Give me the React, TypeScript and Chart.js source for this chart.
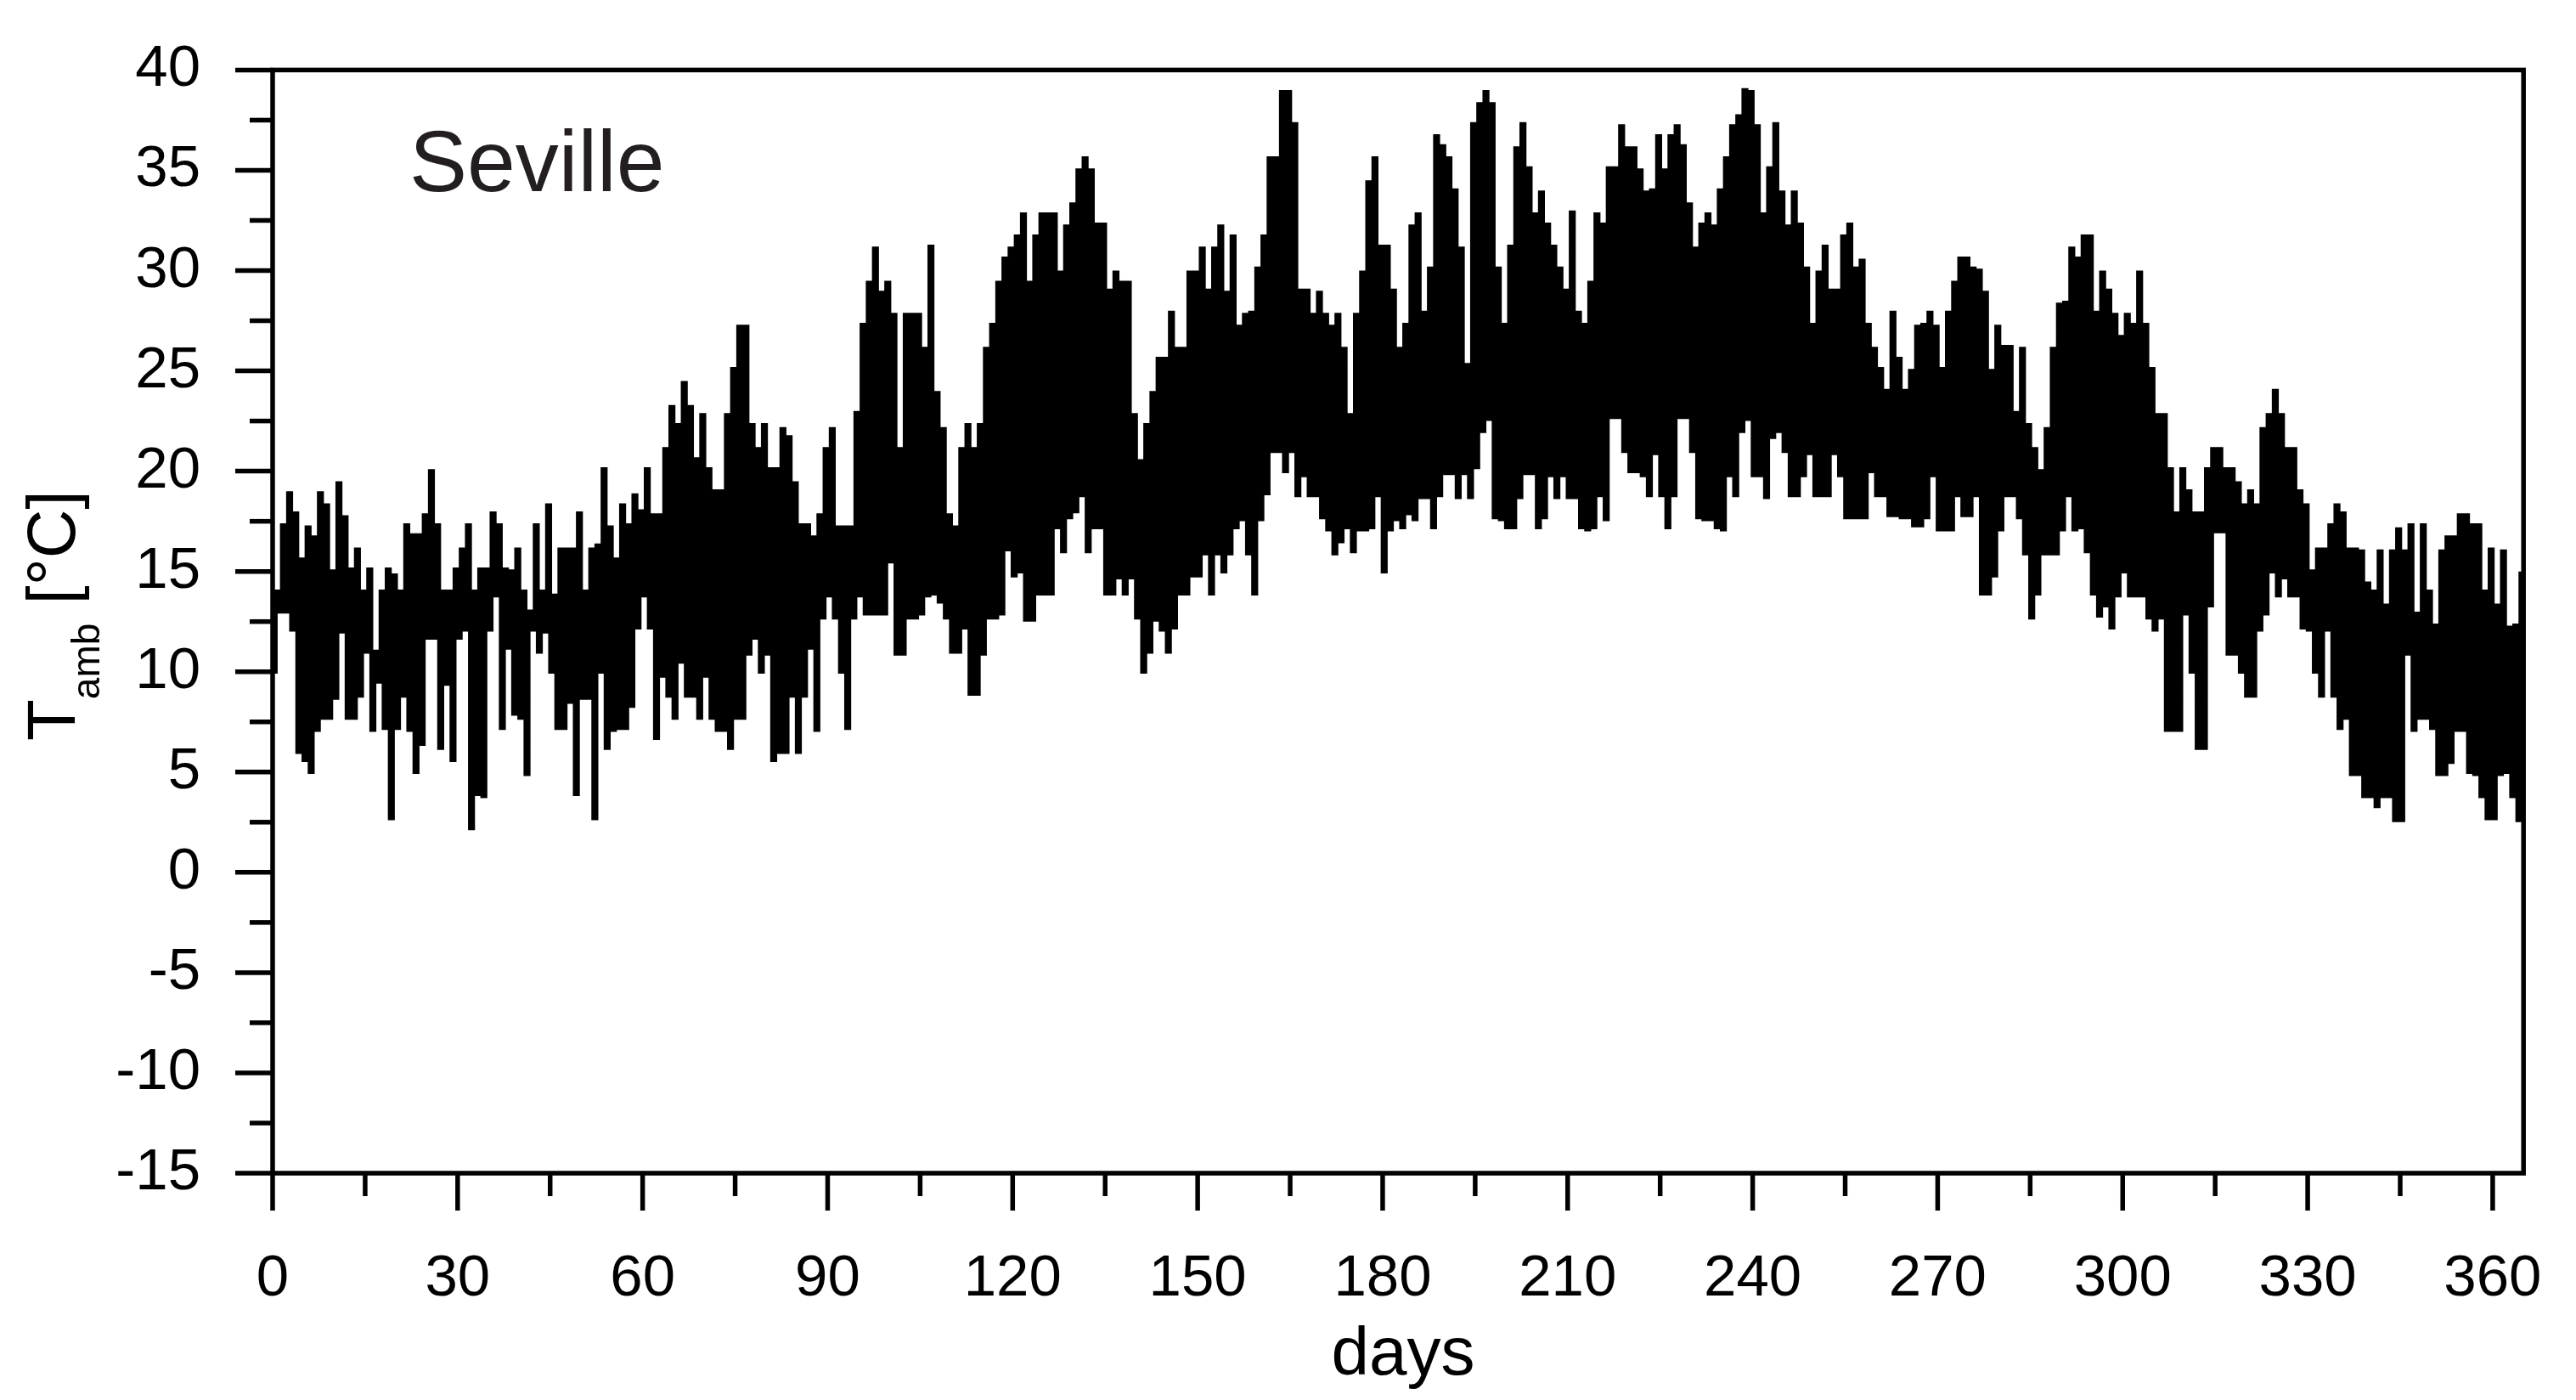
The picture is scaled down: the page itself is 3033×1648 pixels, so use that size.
import { useEffect, useRef } from "react";
import { Chart, registerables } from "chart.js";

Chart.register(...registerables);

const FONT = '"Liberation Sans", Arial, Helvetica, sans-serif';

// Axis ticks
const dayTicks = [0, 30, 60, 90, 120, 150, 180, 210, 240, 270, 300, 330, 360];
const tempTicks = [-15, -10, -5, 0, 5, 10, 15, 20, 25, 30, 35, 40];

// Text
const cityLabel = "Seville";
const xTitle = "days";

// Daily maximum ambient temperature [°C], day 0..364
const dailyMax = [
  14.0, 17.3, 18.9, 17.9, 15.6, 17.2, 16.7, 18.9, 18.3, 15.0,
  19.4, 17.7, 15.1, 16.1, 14.0, 15.1, 11.0, 14.0, 15.1, 14.8,
  14.0, 17.3, 16.8, 16.8, 17.8, 20.0, 17.3, 14.0, 14.0, 15.1,
  16.1, 17.3, 14.0, 15.1, 15.1, 17.9, 17.3, 15.1, 15.0, 16.1,
  14.0, 13.0, 17.3, 14.0, 18.3, 13.8, 16.1, 16.1, 16.1, 17.9,
  14.0, 16.1, 16.3, 20.1, 17.2, 15.6, 18.3, 17.3, 18.8, 18.0,
  20.1, 17.8, 17.8, 21.1, 23.2, 22.3, 24.4, 23.2, 20.6, 22.8,
  20.1, 19.0, 19.0, 22.8, 25.1, 27.2, 27.2, 22.3, 21.1, 22.3,
  20.1, 20.1, 22.1, 21.7, 19.4, 17.3, 17.3, 16.7, 17.8, 21.1,
  22.1, 17.2, 17.2, 17.2, 22.9, 27.3, 29.4, 31.1, 28.9, 29.4,
  27.8, 21.1, 27.8, 27.8, 27.8, 26.1, 31.2, 23.9, 22.1, 17.8,
  17.2, 21.1, 22.3, 21.1, 22.3, 26.1, 27.3, 29.4, 30.6, 31.1,
  31.7, 32.8, 29.4, 31.7, 32.8, 32.8, 32.8, 29.9, 32.2, 33.3,
  35.0, 35.6, 35.0, 32.3, 32.3, 29.0, 29.9, 29.4, 29.4, 22.8,
  20.5, 22.3, 23.9, 25.6, 25.6, 27.9, 26.1, 26.1, 29.9, 29.9,
  31.1, 29.0, 31.1, 32.2, 28.9, 31.7, 27.2, 27.8, 27.9, 30.1,
  31.7, 35.6, 35.6, 38.9, 38.9, 37.3, 29.0, 29.0, 27.8, 28.9,
  27.8, 27.2, 27.8, 26.1, 22.8, 27.8, 29.9, 34.4, 35.6, 31.2,
  31.2, 29.0, 26.1, 27.3, 32.2, 32.8, 27.9, 30.1, 36.7, 36.2,
  35.6, 34.0, 31.1, 25.3, 37.3, 38.3, 38.9, 38.3, 30.1, 27.3,
  31.2, 36.1, 37.3, 35.1, 32.8, 33.9, 32.3, 31.2, 30.1, 29.0,
  32.9, 27.9, 27.3, 29.4, 32.8, 32.3, 35.1, 35.1, 37.2, 36.1,
  36.1, 35.0, 33.9, 34.0, 36.7, 35.0, 36.7, 37.2, 36.2, 33.3,
  31.1, 32.3, 32.8, 32.2, 34.0, 35.6, 37.2, 37.7, 39.0, 38.9,
  37.2, 32.8, 35.1, 37.3, 33.9, 32.2, 33.9, 32.3, 30.1, 27.3,
  29.9, 31.2, 29.0, 29.0, 31.7, 32.3, 30.1, 30.5, 27.3, 26.1,
  25.1, 24.0, 27.9, 25.6, 24.0, 25.0, 27.2, 27.3, 27.9, 27.2,
  25.1, 27.9, 29.4, 30.6, 30.6, 30.1, 30.0, 28.9, 25.0, 27.2,
  26.2, 26.2, 22.9, 26.1, 22.3, 21.1, 20.0, 22.1, 26.1, 28.3,
  28.4, 31.1, 30.6, 31.7, 31.7, 27.9, 29.9, 29.0, 27.8, 26.7,
  27.8, 27.3, 29.9, 27.3, 25.1, 22.8, 22.8, 20.1, 17.9, 20.1,
  19.0, 17.9, 17.9, 20.1, 21.1, 21.1, 20.1, 20.1, 19.4, 18.3,
  19.0, 18.3, 22.1, 22.8, 24.0, 22.8, 21.1, 21.1, 19.0, 18.3,
  15.0, 16.1, 16.1, 17.3, 18.3, 17.9, 16.1, 16.1, 16.0, 14.4,
  14.0, 16.0, 13.3, 16.0, 17.1, 16.0, 17.3, 12.9, 17.3, 14.0,
  12.3, 16.0, 16.7, 16.7, 17.8, 17.8, 17.3, 17.3, 14.0, 16.1,
  13.3, 16.0, 12.2, 12.3, 15.0,
];

// Daily minimum ambient temperature [°C], day 0..364
const dailyMin = [
  10.0, 13.0, 13.0, 12.1, 6.0, 5.6, 5.0, 7.1, 7.7, 7.7,
  8.7, 12.0, 7.7, 7.7, 8.8, 11.0, 7.1, 9.5, 7.2, 2.7,
  7.2, 8.8, 7.1, 5.0, 6.4, 11.7, 11.7, 6.2, 9.4, 5.6,
  11.7, 12.1, 2.2, 3.9, 3.8, 12.1, 13.8, 7.2, 11.2, 7.9,
  7.7, 4.9, 12.1, 11.0, 12.0, 10.0, 7.2, 7.2, 8.5, 3.9,
  8.7, 8.7, 2.7, 10.0, 6.2, 7.1, 7.2, 7.2, 8.3, 12.2,
  13.8, 12.2, 6.7, 9.8, 8.8, 7.7, 10.5, 8.8, 8.8, 7.7,
  9.8, 7.7, 7.1, 7.1, 6.2, 7.7, 7.7, 10.9, 11.7, 10.0,
  10.9, 5.6, 6.0, 6.0, 8.8, 6.0, 8.8, 11.2, 7.1, 12.7,
  13.8, 12.7, 10.0, 7.2, 12.7, 13.8, 12.9, 12.9, 12.9, 12.9,
  15.5, 10.9, 10.9, 12.7, 12.7, 12.9, 13.8, 13.9, 13.5, 12.7,
  11.0, 11.0, 12.2, 8.9, 8.9, 10.9, 12.7, 12.7, 12.9, 16.1,
  14.8, 15.0, 12.6, 12.6, 13.9, 13.9, 13.9, 17.2, 16.0, 17.7,
  18.0, 18.8, 16.0, 17.2, 17.2, 13.9, 13.9, 14.7, 13.9, 14.7,
  12.7, 10.0, 11.0, 12.6, 12.1, 11.0, 12.2, 13.9, 13.9, 14.8,
  14.8, 15.9, 13.9, 15.9, 15.0, 15.9, 17.2, 17.6, 15.9, 13.9,
  17.6, 18.9, 21.0, 21.0, 20.0, 21.0, 18.8, 19.8, 18.8, 18.8,
  17.7, 17.1, 15.9, 16.5, 17.2, 16.0, 17.1, 17.1, 17.2, 18.8,
  15.0, 17.1, 17.6, 17.2, 17.9, 17.6, 18.7, 18.7, 17.2, 18.8,
  19.9, 19.9, 18.7, 19.9, 18.7, 20.2, 22.0, 22.6, 17.7, 17.6,
  17.2, 17.2, 18.7, 19.9, 19.9, 17.2, 17.7, 19.8, 18.7, 19.8,
  18.7, 18.7, 17.2, 17.1, 17.2, 18.8, 17.6, 22.7, 22.7, 21.0,
  20.0, 20.0, 19.8, 18.8, 20.9, 18.8, 17.2, 18.8, 22.7, 22.7,
  21.0, 17.7, 17.6, 17.6, 17.2, 17.1, 19.8, 18.8, 22.0, 22.6,
  19.8, 19.8, 18.7, 21.7, 22.0, 21.0, 18.8, 18.8, 19.8, 20.9,
  18.8, 18.8, 18.8, 20.9, 19.8, 17.7, 17.7, 17.7, 17.7, 20.0,
  18.8, 18.8, 17.8, 17.8, 17.7, 17.7, 17.3, 17.3, 17.7, 19.8,
  17.1, 17.1, 17.1, 18.8, 17.8, 17.8, 18.8, 13.9, 13.9, 14.8,
  17.1, 18.8, 18.8, 17.7, 15.9, 12.7, 13.9, 15.9, 15.9, 15.9,
  17.1, 18.8, 17.1, 17.2, 16.0, 13.9, 12.8, 13.3, 12.2, 13.8,
  15.0, 13.8, 13.8, 13.8, 12.7, 12.1, 12.7, 7.1, 7.1, 7.1,
  12.9, 10.0, 6.2, 6.2, 13.3, 17.0, 17.0, 10.9, 10.9, 10.0,
  8.8, 8.8, 12.1, 12.9, 15.0, 13.8, 14.7, 13.8, 13.8, 12.2,
  12.1, 10.0, 8.8, 12.1, 8.8, 7.2, 7.7, 4.9, 4.9, 3.8,
  3.8, 3.3, 3.8, 3.8, 2.6, 2.6, 10.9, 7.1, 7.7, 7.7,
  7.2, 4.9, 4.9, 5.5, 7.1, 7.1, 5.0, 4.9, 3.8, 2.7,
  2.7, 4.9, 5.0, 3.8, 2.6,
];

const framePlugin = {
  id: "frameAndText",
  afterDraw(chart: any) {
    const { ctx, chartArea: a, scales } = chart;
    const xs = scales.x;
    const ys = scales.y;
    ctx.save();
    ctx.strokeStyle = "#000";
    ctx.lineCap = "butt";
    ctx.lineWidth = 5.5;
    ctx.strokeRect(a.left, a.top, a.right - a.left, a.bottom - a.top);

    const line = (x1: number, y1: number, x2: number, y2: number) => {
      ctx.beginPath();
      ctx.moveTo(x1, y1);
      ctx.lineTo(x2, y2);
      ctx.stroke();
    };
    // x ticks (major + minor half-way)
    dayTicks.forEach((v, i) => {
      const px = xs.getPixelForValue(v);
      line(px, a.bottom, px, a.bottom + 44);
      if (i < dayTicks.length - 1) {
        const mv = (v + dayTicks[i + 1]) / 2;
        const mx = xs.getPixelForValue(mv);
        line(mx, a.bottom, mx, a.bottom + 27);
      }
    });
    // y ticks
    tempTicks.forEach((v, i) => {
      const py = ys.getPixelForValue(v);
      line(a.left, py, a.left - 44, py);
      if (i < tempTicks.length - 1) {
        const mv = (v + tempTicks[i + 1]) / 2;
        const my = ys.getPixelForValue(mv);
        line(a.left, my, a.left - 27, my);
      }
    });

    // City label
    ctx.fillStyle = "#231f20";
    ctx.textAlign = "left";
    ctx.textBaseline = "alphabetic";
    ctx.font = `102px ${FONT}`;
    ctx.fillText(cityLabel, 482, 225);

    // x title
    ctx.fillStyle = "#000";
    ctx.textAlign = "center";
    ctx.font = `80px ${FONT}`;
    ctx.fillText(xTitle, 1652, 1618);

    // y title: T_amb [°C]
    ctx.translate(88, 872);
    ctx.rotate(-Math.PI / 2);
    ctx.textAlign = "left";
    ctx.font = `80px ${FONT}`;
    ctx.fillText("T", 0, 0);
    const wT = ctx.measureText("T").width;
    ctx.font = `46px ${FONT}`;
    ctx.fillText("amb", wT, 29);
    const wSub = ctx.measureText("amb").width;
    ctx.font = `80px ${FONT}`;
    ctx.fillText(" [°C]", wT + wSub, 0);
    ctx.restore();
  },
};

export default function App() {
  const canvasRef = useRef<HTMLCanvasElement | null>(null);

  useEffect(() => {
    const canvas = canvasRef.current;
    if (!canvas) return;
    const points: { x: number; y: number }[] = [];
    dailyMin.forEach((mn, d) => {
      points.push({ x: d, y: mn });
      points.push({ x: d + 0.5, y: dailyMax[d] });
    });

    const chart = new Chart(canvas, {
      type: "line",
      data: {
        datasets: [
          {
            data: points,
            borderColor: "#000",
            backgroundColor: "#000",
            borderWidth: 4.6,
            pointRadius: 0,
            fill: false,
            tension: 0,
            stepped: true,
          },
        ],
      },
      options: {
        animation: false,
        responsive: false,
        devicePixelRatio: 1,
        events: [],
        layout: { padding: { left: 0, top: 44, right: 39, bottom: 0 } },
        plugins: {
          legend: { display: false },
          tooltip: { enabled: false },
          title: { display: false },
        },
        scales: {
          x: {
            type: "linear",
            position: "bottom",
            min: 0,
            max: 365,
            afterFit: (s: any) => {
              s.height = 267;
            },
            afterBuildTicks: (s: any) => {
              s.ticks = dayTicks.map((v) => ({ value: v }));
            },
            grid: {
              display: true,
              drawOnChartArea: false,
              drawTicks: true,
              tickLength: 44,
              tickColor: "rgba(0,0,0,0)",
            },
            border: { display: false },
            ticks: {
              color: "#000",
              font: { family: FONT, size: 69, lineHeight: 1.2 },
              padding: 40,
              maxRotation: 0,
              autoSkip: false,
              callback: (v: any) => String(v),
            },
          },
          y: {
            type: "linear",
            position: "left",
            min: -15,
            max: 40,
            afterFit: (s: any) => {
              s.width = 321;
            },
            afterBuildTicks: (s: any) => {
              s.ticks = tempTicks.map((v) => ({ value: v }));
            },
            grid: {
              display: true,
              drawOnChartArea: false,
              drawTicks: true,
              tickLength: 44,
              tickColor: "rgba(0,0,0,0)",
            },
            border: { display: false },
            ticks: {
              color: "#000",
              font: { family: FONT, size: 69, lineHeight: 1.2 },
              padding: 41,
              autoSkip: false,
              callback: (v: any) => String(v),
            },
          },
        },
      },
      plugins: [framePlugin],
    });
    return () => chart.destroy();
  }, []);

  return (
    <div
      style={{
        position: "fixed",
        left: 0,
        top: 0,
        width: 3033,
        height: 1648,
        background: "#fff",
      }}
    >
      <canvas
        ref={canvasRef}
        width={3033}
        height={1648}
        style={{ display: "block", width: 3033, height: 1648 }}
      />
    </div>
  );
}
